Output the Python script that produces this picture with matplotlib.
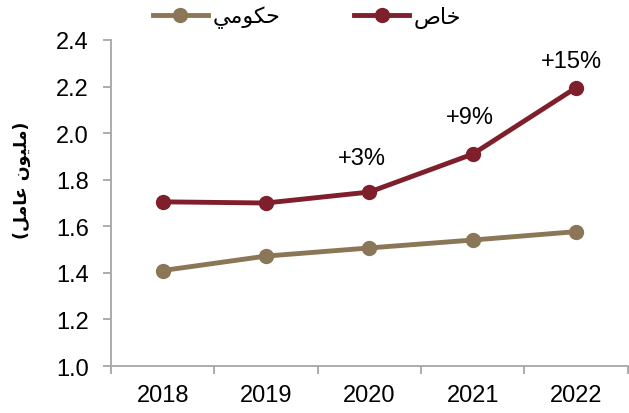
import matplotlib
matplotlib.use("Agg")
import matplotlib.pyplot as plt
from matplotlib.ticker import FixedLocator, NullFormatter

plt.rcParams['font.family'] = ['Liberation Sans', 'DejaVu Sans']

years = ["2018", "2019", "2020", "2021", "2022"]
private = [1.705, 1.70, 1.747, 1.91, 2.195]
government = [1.41, 1.472, 1.507, 1.541, 1.577]
growth_labels = ["+3%", "+9%", "+15%"]
growth_idx = [2, 3, 4]
y_ticks = [1.0, 1.2, 1.4, 1.6, 1.8, 2.0, 2.2, 2.4]

# Arabic text in visual (shaped) order using presentation forms:
label_private = "\uFEB9\uFE8E\uFEA7"                      # خاص
label_government = "\uFEF2\uFEE3\uFEEE\uFEDC\uFEA3"        # حكومي
y_title = "(" + "\uFEDE\uFEE3\uFE8E\uFECB" + " " + "\uFEE5\uFEEE\uFEF4\uFEE0\uFEE3" + ")"  # (مليون عامل)

tan = "#8B7757"
red = "#7F1F2B"
spine = "#A6A6A6"

fig = plt.figure(figsize=(6.29, 4.14), dpi=100)
ax = fig.add_axes([0.1765, 0.1135, 0.8215, 0.7875])

x = list(range(len(years)))
ax.plot(x, government, color=tan, lw=3.5, marker="o", ms=10, label=label_government, zorder=3)
ax.plot(x, private, color=red, lw=3.5, marker="o", ms=10, label=label_private, zorder=3)

offsets = {2: (-0.07, 0.146), 3: (-0.03, 0.159), 4: (-0.04, 0.115)}
for lab, i in zip(growth_labels, growth_idx):
    dx, dy = offsets[i]
    ax.text(i + dx, private[i] + dy, lab, ha="center", va="center", fontsize=17)

ax.set_xlim(-0.5, len(years) - 0.5)
ax.set_ylim(1.0, 2.4)
ax.set_yticks(y_ticks)
ax.set_yticklabels([f"{v:.1f}" for v in y_ticks], fontsize=17)
ax.xaxis.set_major_locator(FixedLocator([i - 0.5 for i in range(len(years) + 1)]))
ax.xaxis.set_major_formatter(NullFormatter())
ax.xaxis.set_minor_locator(FixedLocator(x))
ax.set_xticklabels(years, minor=True, fontsize=17)
ax.tick_params(axis="x", which="minor", length=0, pad=13)
ax.tick_params(axis="x", which="major", length=6, width=1.3, color=spine, direction="out")
ax.tick_params(axis="y", length=6, width=1.3, color=spine, direction="out", pad=10)

for s in ["top", "right"]:
    ax.spines[s].set_visible(False)
for s in ["left", "bottom"]:
    ax.spines[s].set_color(spine)
    ax.spines[s].set_linewidth(1.3)

fig.text(22 / 629, 1 - 180 / 414, y_title, family=["DejaVu Sans"], fontsize=12.5,
         fontweight="bold", rotation=90, ha="center", va="center")

leg = fig.legend(loc="center", bbox_to_anchor=(307 / 629, 1 - 18 / 414), ncol=2, frameon=False,
                 prop={"family": "DejaVu Sans", "size": 16}, handlelength=2.5,
                 handletextpad=0.2, columnspacing=3.3, borderaxespad=0, borderpad=0)

fig.savefig("out.png", dpi=100)
